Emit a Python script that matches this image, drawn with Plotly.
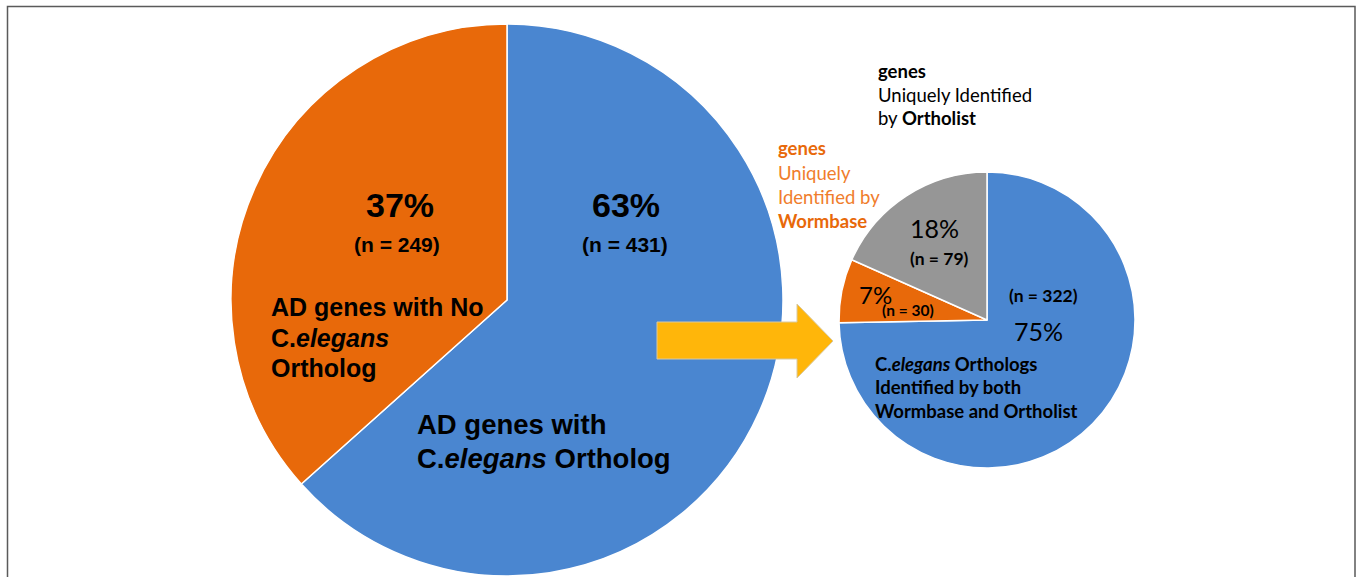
import plotly.graph_objects as go

W, H = 1358, 577

# ---- data ----
big_labels = ["AD genes with C.elegans Ortholog", "AD genes with No C.elegans Ortholog"]
big_values = [431, 249]
big_colors = ["#4A86D0", "#E8690A"]

small_labels = ["Identified by both Wormbase and Ortholist",
                "Uniquely Identified by Wormbase",
                "Uniquely Identified by Ortholist"]
small_values = [322, 30, 79]
small_colors = ["#4A86D0", "#E8690A", "#969696"]


def px(x):
    return x / W


def py(y):
    return 1 - y / H


def pct(vals, i):
    return f"{round(100 * vals[i] / sum(vals))}%"


fig = go.Figure()

fig.add_trace(go.Pie(
    labels=big_labels, values=big_values, sort=False, direction="clockwise",
    rotation=0, textinfo="none", hoverinfo="label+value+percent",
    marker=dict(colors=big_colors, line=dict(color="white", width=1.5)),
    domain=dict(x=[px(231), px(783)], y=[py(576), py(24)]),
    showlegend=False,
))

fig.add_trace(go.Pie(
    labels=small_labels, values=small_values, sort=False, direction="clockwise",
    rotation=0, textinfo="none", hoverinfo="label+value+percent",
    marker=dict(colors=small_colors, line=dict(color="white", width=1.5)),
    domain=dict(x=[px(839), px(1135)], y=[py(468), py(172)]),
    showlegend=False,
))

ann = []


def add(text, x, y, size, family, color="black", xanchor="center", bold=False):
    t = f"<b>{text}</b>" if bold else text
    ann.append(dict(text=t, x=px(x), y=py(y), xref="paper", yref="paper",
                    showarrow=False, xanchor=xanchor, yanchor="middle",
                    font=dict(size=size, family=family, color=color)))


AR = "Liberation Sans"
CA = "Lato"

# big pie texts
add(pct(big_values, 1), 400, 205, 34, AR, bold=True)
add(f"(n = {big_values[1]})", 397, 244, 21, AR, bold=True)
add("AD genes with No", 269, 307, 25, AR, xanchor="left", bold=True)
add("C.<i>elegans</i>", 269, 338, 25, AR, xanchor="left", bold=True)
add("Ortholog", 269, 368, 25, AR, xanchor="left", bold=True)

add(pct(big_values, 0), 626, 205, 34, AR, bold=True)
add(f"(n = {big_values[0]})", 625, 244, 21, AR, bold=True)
add("AD genes with", 415, 424, 27.5, AR, xanchor="left", bold=True)
add("C.<i>elegans</i> Ortholog", 415, 459, 27.5, AR, xanchor="left", bold=True)

# small pie texts
SZ = 18.5
add("<b>genes</b>", 876, 71, SZ, CA, xanchor="left")
add("Uniquely Identified", 876, 95, SZ, CA, xanchor="left")
add("by <b>Ortholist</b>", 876, 118, SZ, CA, xanchor="left")

OR_B = "#E8690A"
OR_L = "#F07D2C"
add("genes", 776, 148, SZ, CA, color=OR_B, xanchor="left", bold=True)
add("Uniquely", 776, 173, SZ, CA, color=OR_L, xanchor="left")
add("Identified by", 776, 197, SZ, CA, color=OR_L, xanchor="left")
add("Wormbase", 776, 221, SZ, CA, color=OR_B, xanchor="left", bold=True)

add(pct(small_values, 2), 934, 228, 25, CA)
add(f"(n = {small_values[2]})", 939, 258, 17.5, CA, bold=True)
add(pct(small_values, 1), 875, 294, 24, CA)
add(f"(n = {small_values[1]})", 908, 310, 15.5, CA, bold=True)
add(f"(n = {small_values[0]})", 1043, 295, 17.5, CA, bold=True)
add(pct(small_values, 0), 1038, 331, 25, CA)
add("C.<i>elegans</i> Orthologs", 873, 364, SZ, CA, xanchor="left", bold=True)
add("Identified by both", 873, 387, SZ, CA, xanchor="left", bold=True)
add("Wormbase and Ortholist", 873, 411, SZ, CA, xanchor="left", bold=True)

# arrow shape
pts = [(657, 322), (797, 322), (797, 304), (833, 341), (797, 378), (797, 359), (657, 359)]
path = "M " + " L ".join(f"{px(a)},{py(b)}" for a, b in pts) + " Z"

shapes = [
    dict(type="path", path=path, xref="paper", yref="paper",
         fillcolor="#FFB60A", line=dict(color="#D9C9A0", width=1)),
    dict(type="rect", xref="paper", yref="paper",
         x0=px(7.5), x1=px(1355), y0=py(620), y1=py(6.5),
         line=dict(color="#5A5A5A", width=1.5), fillcolor="rgba(0,0,0,0)"),
]

fig.update_layout(
    width=W, height=H, autosize=False,
    margin=dict(l=0, r=0, t=0, b=0),
    paper_bgcolor="white", plot_bgcolor="white",
    annotations=ann, shapes=shapes,
)

fig.write_html(
    "out.html",
    config={"displayModeBar": False},
    post_script="document.body.style.margin='0';document.body.style.overflow='hidden';",
)
